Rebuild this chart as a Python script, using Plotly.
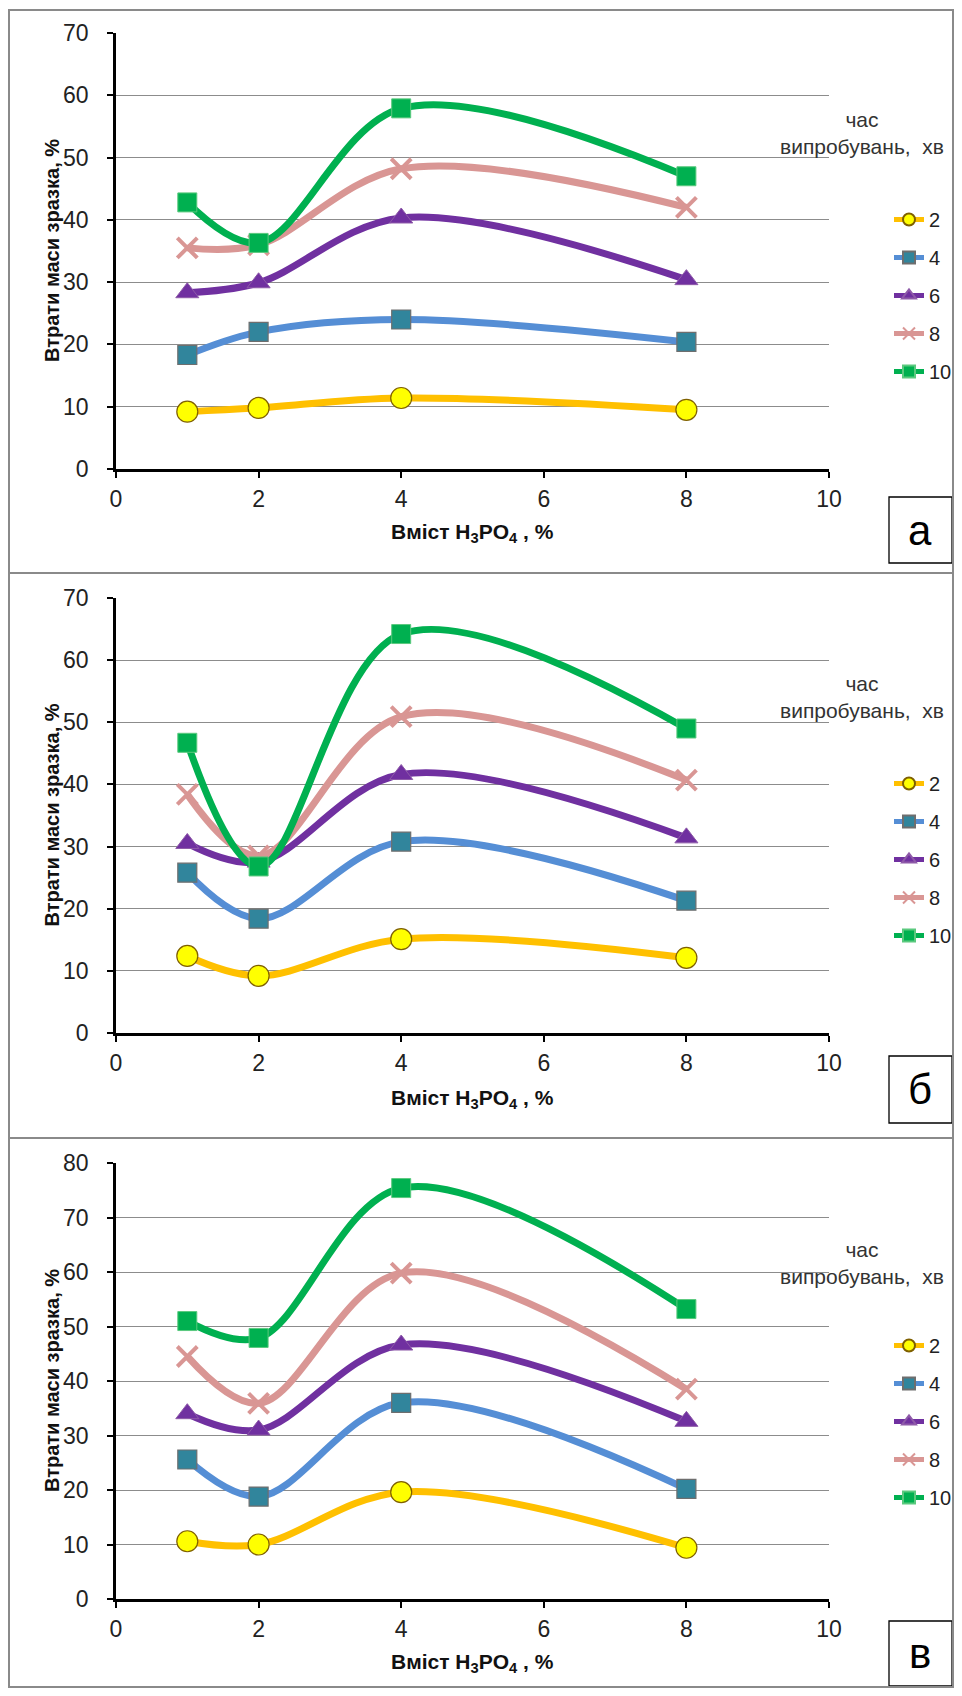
import plotly.graph_objects as go

# The page body has an 8px default margin; keep the figure inside the window.
OFF = 8
FW, FH = 962 - 2 * OFF, 1696 - 2 * OFF

x_vals = [1, 2, 4, 8]
series_names = ["2", "4", "6", "8", "10"]

# panel а
a_2 = [9.2, 9.8, 11.4, 9.5]
a_4 = [18.3, 22.0, 24.0, 20.4]
a_6 = [28.3, 29.9, 40.3, 30.4]
a_8 = [35.5, 36.0, 48.2, 42.0]
a_10 = [42.8, 36.3, 57.9, 47.0]
# panel б
b_2 = [12.4, 9.2, 15.1, 12.1]
b_4 = [25.8, 18.4, 30.8, 21.3]
b_6 = [30.5, 27.5, 41.6, 31.4]
b_8 = [38.4, 28.5, 50.9, 40.7]
b_10 = [46.7, 26.8, 64.2, 49.0]
# panel в
c_2 = [10.6, 10.0, 19.6, 9.4]
c_4 = [25.6, 18.8, 36.0, 20.2]
c_6 = [34.0, 31.0, 46.6, 32.6]
c_8 = [44.5, 35.9, 59.8, 38.5]
c_10 = [51.0, 47.9, 75.4, 53.2]

panel_labels = ["а", "б", "в"]
y_maxes = [70, 70, 80]
y_title = "Втрати маси зразка, %"
x_title = "Вміст H<sub>3</sub>PO<sub>4</sub> , %"
legend_title = "час<br>випробувань,  хв"

panels = [
    [a_2, a_4, a_6, a_8, a_10],
    [b_2, b_4, b_6, b_8, b_10],
    [c_2, c_4, c_6, c_8, c_10],
]

line_colors = ["#FFC000", "#558ED5", "#7030A0", "#D99694", "#00B050"]
marker_styles = [
    dict(symbol="circle", size=21, color="#FFFF00", line=dict(color="#7F6000", width=1.2)),
    dict(symbol="square", size=19, color="#31859C", line=dict(color="#6E6E6E", width=1.2)),
    dict(symbol="triangle-up", size=20, color="#7030A0", line=dict(color="#8E5AA8", width=1)),
    dict(symbol="x-thin", size=20, color="#D99694", line=dict(color="#D99694", width=4)),
    dict(symbol="square", size=19, color="#00B050", line=dict(color="#5BC97E", width=1)),
]

FONT = "Liberation Sans, Arial, sans-serif"
NARROW = "Liberation Sans Narrow, Arial Narrow, Liberation Sans, Arial, sans-serif"

# geometry in page pixels (reference image)
plot_x0, plot_x1 = 116, 829
plot_y = [(33, 469), (598, 1033), (1163, 1599)]
legend_top = [200, 764, 1326]
title_y = [(119, 148), (682, 712), (1248, 1277)]
box_y = [(497, 563), (1056, 1123), (1621, 1686)]
xtitle_y = [533, 1099, 1663]


def px(x):
    return (x - OFF) / FW


def py(y):
    return 1 - (y - OFF) / FH


fig = go.Figure()
legend_keys = ["legend", "legend2", "legend3"]

for p, data in enumerate(panels):
    xa = "x" if p == 0 else f"x{p+1}"
    ya = "y" if p == 0 else f"y{p+1}"
    for i, vals in enumerate(data):
        fig.add_trace(go.Scatter(
            x=x_vals, y=vals, name=series_names[i],
            mode="lines+markers",
            line=dict(color=line_colors[i], width=7, shape="spline", smoothing=1.0),
            marker=marker_styles[i],
            xaxis=xa, yaxis=ya,
            legend=legend_keys[p],
            legendgroup=f"p{p}s{i}",
        ))

layout = dict(
    width=FW, height=FH,
    margin=dict(l=0, r=0, t=0, b=0, autoexpand=False),
    paper_bgcolor="white", plot_bgcolor="white",
    font=dict(family=FONT, color="#222222"),
    showlegend=True,
)

for p in range(3):
    xk = "xaxis" if p == 0 else f"xaxis{p+1}"
    yk = "yaxis" if p == 0 else f"yaxis{p+1}"
    y0, y1 = plot_y[p]
    layout[xk] = dict(
        domain=[px(plot_x0), px(plot_x1)], range=[0, 10], dtick=2, tick0=0,
        anchor="y" if p == 0 else f"y{p+1}",
        showgrid=False, zeroline=False,
        showline=True, linecolor="black", linewidth=2.5,
        ticks="outside", ticklen=6, tickwidth=2, tickcolor="black",
        tickfont=dict(size=23, color="#222222", family=FONT),
        ticklabelstandoff=2,
        fixedrange=True,
    )
    layout[yk] = dict(
        domain=[py(y1), py(y0)], range=[0, y_maxes[p]], dtick=10, tick0=0,
        anchor="x" if p == 0 else f"x{p+1}",
        showgrid=True, gridcolor="#8C8C8C", gridwidth=1.2,
        zeroline=False,
        showline=True, linecolor="black", linewidth=2.5,
        ticks="outside", ticklen=6, tickwidth=2, tickcolor="black",
        tickfont=dict(size=23, color="#222222", family=FONT),
        ticklabelstandoff=14,
        fixedrange=True,
    )
    layout[legend_keys[p]] = dict(
        x=px(889), y=py(legend_top[p]), xanchor="left", yanchor="top",
        bgcolor="rgba(0,0,0,0)", borderwidth=0,
        font=dict(size=20, color="#222222", family=FONT),
        tracegroupgap=9, traceorder="grouped",
        itemsizing="constant",
    )

annotations = []
shapes = []
for p in range(3):
    y0, y1 = plot_y[p]
    annotations.append(dict(
        text=f"<b>{y_title}</b>", textangle=-90,
        x=px(52), y=py((y0 + y1) / 2), xref="paper", yref="paper",
        xanchor="center", yanchor="middle", showarrow=False,
        font=dict(size=20, color="#111111", family=FONT),
    ))
    annotations.append(dict(
        text=f"<b>{x_title}</b>",
        x=px((plot_x0 + plot_x1) / 2), y=py(xtitle_y[p]), xref="paper", yref="paper",
        xanchor="center", yanchor="middle", showarrow=False,
        font=dict(size=21, color="#111111", family=FONT),
    ))
    annotations.append(dict(
        text=legend_title, align="center",
        x=px(862), y=py(sum(title_y[p]) / 2), xref="paper", yref="paper",
        xanchor="center", yanchor="middle", showarrow=False,
        font=dict(size=21, color="#333333", family=NARROW),
    ))
    by0, by1 = box_y[p]
    shapes.append(dict(
        type="rect", xref="paper", yref="paper",
        x0=px(889), x1=px(952), y0=py(by1), y1=py(by0),
        line=dict(color="black", width=1.3), fillcolor="white",
    ))
    annotations.append(dict(
        text=panel_labels[p],
        x=px(920), y=py((by0 + by1) / 2), xref="paper", yref="paper",
        xanchor="center", yanchor="middle", showarrow=False,
        font=dict(size=42, color="#000000", family=FONT),
    ))

# outer frame and separators
shapes.append(dict(type="rect", xref="paper", yref="paper",
                   x0=px(9), x1=px(953), y0=py(1687), y1=py(10),
                   line=dict(color="#8A8A8A", width=2)))
for sy in (573, 1138):
    shapes.append(dict(type="line", xref="paper", yref="paper",
                       x0=px(9), x1=px(953), y0=py(sy), y1=py(sy),
                       line=dict(color="#8A8A8A", width=2)))

layout["annotations"] = annotations
layout["shapes"] = shapes
fig.update_layout(**layout)

fig.write_html("out.html")
